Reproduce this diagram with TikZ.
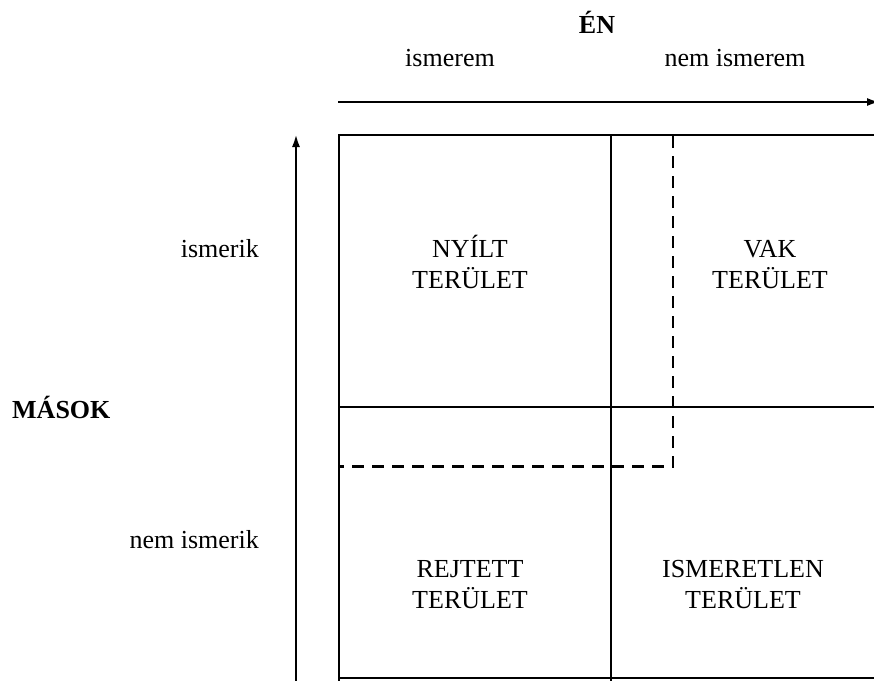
\documentclass[tikz,border=0pt]{standalone}
\usepackage{fontspec}
\setmainfont{Liberation Serif}
\usetikzlibrary{arrows.meta}
\begin{document}
\begin{tikzpicture}[x=1pt,y=-1pt,
  lbl/.style={anchor=base,inner sep=0pt,font=\fontsize{26}{31}\selectfont},
  boldlbl/.style={anchor=base,inner sep=0pt,font=\fontsize{26}{31}\selectfont\bfseries},
  gridline/.style={line width=2.4pt},
  dashline/.style={line width=2.4pt,dash pattern=on 12pt off 8pt},
  axis/.style={line width=2.4pt,-{Latex[length=13pt,width=8pt]}}]
\useasboundingbox (0,0) rectangle (874,680);
% coordinates
\coordinate (ha) at (338,102);
\coordinate (hb) at (880,102);
\coordinate (va) at (296,684);
\coordinate (vb) at (296,134);
% axes
\draw[axis] (ha) -- (hb);
\draw[axis] (va) -- (vb);
% grid
\draw[gridline] (880,135) -- (339,135) -- (339,684);
\draw[gridline] (611,135) -- (611,684);
\draw[gridline] (339,407) -- (880,407);
\draw[gridline] (339,678) -- (880,678);
% dashed region
\draw[dashline] (673,136) -- (673,466.5) -- (339,466.5);
% labels
\node[boldlbl] (en) at (597,33) {ÉN};
\node[lbl] (ism) at (450,66) {ismerem};
\node[lbl] (nism) at (735,66) {nem ismerem};
\node[lbl,anchor=base east] (isk) at (259,257) {ismerik};
\node[lbl,anchor=base east] (nisk) at (259,548) {nem ismerik};
\node[boldlbl,anchor=base west] (masok) at (12,418) {MÁSOK};
% cells
\node[lbl] (c1a) at (470,257) {NYÍLT};
\node[lbl] (c1b) at (470,288) {TERÜLET};
\node[lbl] (c2a) at (770,257) {VAK};
\node[lbl] (c2b) at (770,288) {TERÜLET};
\node[lbl] (c3a) at (470,577) {REJTETT};
\node[lbl] (c3b) at (470,608) {TERÜLET};
\node[lbl] (c4a) at (743,577) {ISMERETLEN};
\node[lbl] (c4b) at (743,608) {TERÜLET};
\end{tikzpicture}
\end{document}
